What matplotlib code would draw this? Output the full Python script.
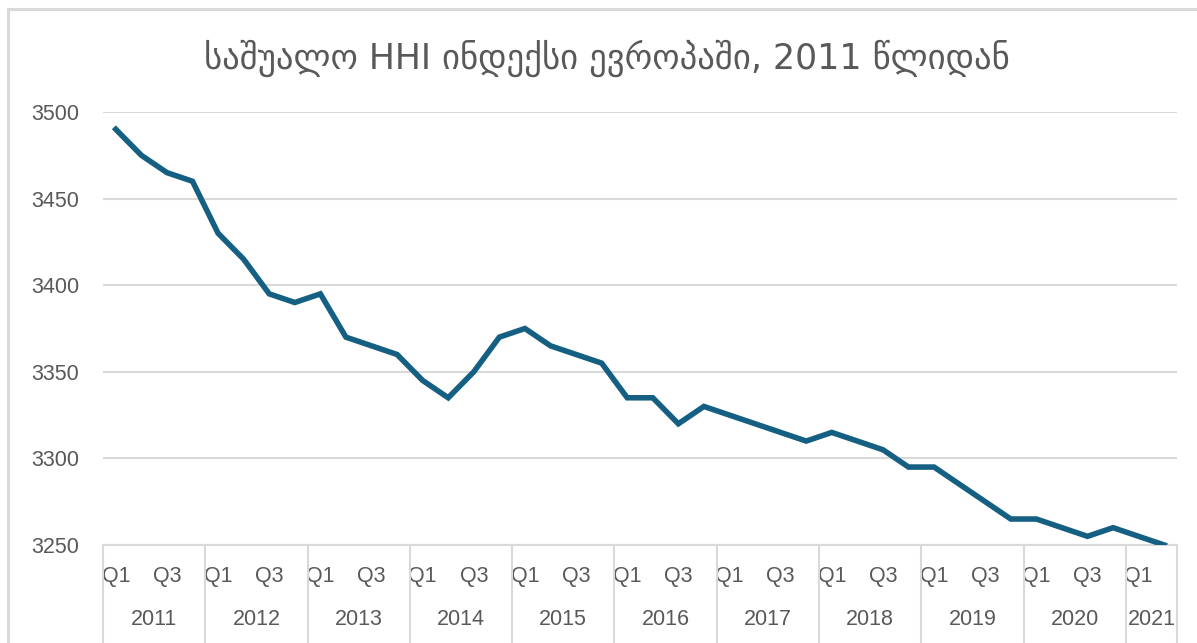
import numpy as np
import matplotlib.pyplot as plt
from matplotlib.patches import Rectangle
import matplotlib.transforms as mtransforms

# datos trimestrales 2011 Q1 - 2021 Q2
years = ['2011', '2012', '2013', '2014', '2015', '2016', '2017', '2018', '2019', '2020', '2021']
quarters = ['Q1', 'Q2', 'Q3', 'Q4']
n_quarters = [4, 4, 4, 4, 4, 4, 4, 4, 4, 4, 2]
hhi = [3490, 3475, 3465, 3460,
       3430, 3415, 3395, 3390,
       3395, 3370, 3365, 3360,
       3345, 3335, 3350, 3370,
       3375, 3365, 3360, 3355,
       3335, 3335, 3320, 3330,
       3325, 3320, 3315, 3310,
       3315, 3310, 3305, 3295,
       3295, 3285, 3275, 3265,
       3265, 3260, 3255, 3260,
       3255, 3250]
yticks = [3250, 3300, 3350, 3400, 3450, 3500]
title = 'საშუალო HHI ინდექსი ევროპაში, 2011 წლიდან'

plt.rcParams['font.family'] = ['Liberation Sans', 'DejaVu Sans']
gris = '#595959'
rejilla = '#d9d9d9'

fig = plt.figure(figsize=(11.97, 6.43), dpi=100)
ax = fig.add_axes([103/1197, 1 - 545/643, 1074/1197, 433/643])

x = np.arange(len(hhi))
ax.plot(x, hhi, color='#156082', linewidth=4, solid_joinstyle='miter', zorder=3)

ax.set_xlim(-0.5, len(hhi) - 0.5)
ax.set_ylim(3250, 3500)
ax.set_yticks(yticks)
ax.set_yticklabels([str(v) for v in yticks], fontsize=15.5, color=gris)
ax.tick_params(axis='y', length=0, pad=17)
ax.grid(axis='y', color=rejilla, linewidth=1.5)
ax.set_axisbelow(True)
for s in ['top', 'right', 'left']:
    ax.spines[s].set_visible(False)
ax.spines['bottom'].set_color(rejilla)
ax.spines['bottom'].set_linewidth(1.5)

# etiquetas de trimestre (cada dos)
qlabels = []
for n in n_quarters:
    qlabels += [quarters[i] if i % 2 == 0 else '' for i in range(n)]
ax.set_xticks(x)
ax.set_xticklabels(qlabels, fontsize=15.5, color=gris)
ax.tick_params(axis='x', length=0, pad=15)

# separadores y etiquetas de año
trans = mtransforms.blended_transform_factory(ax.transData, ax.transAxes)
bounds = np.concatenate([[0], np.cumsum(n_quarters)]) - 0.5
for b in bounds:
    ax.plot([b, b], [0, -0.25], color=rejilla, linewidth=1.5, transform=trans, clip_on=False)
for i, yr in enumerate(years):
    c = (bounds[i] + bounds[i + 1]) / 2
    ax.text(c, -0.173, yr, transform=trans, ha='center', va='center', fontsize=15.5, color=gris)

fig.text(0.507, 1 - 58/643, title, ha='center', va='center', fontsize=25, color=gris,
         family=['DejaVu Sans'])

# marco del gráfico
fig.patches.append(Rectangle((8/1197, -0.1), 1.2, 1.1 - 9/643, transform=fig.transFigure,
                             fill=False, edgecolor=rejilla, linewidth=2.2))

fig.savefig('out.png', dpi=100)
